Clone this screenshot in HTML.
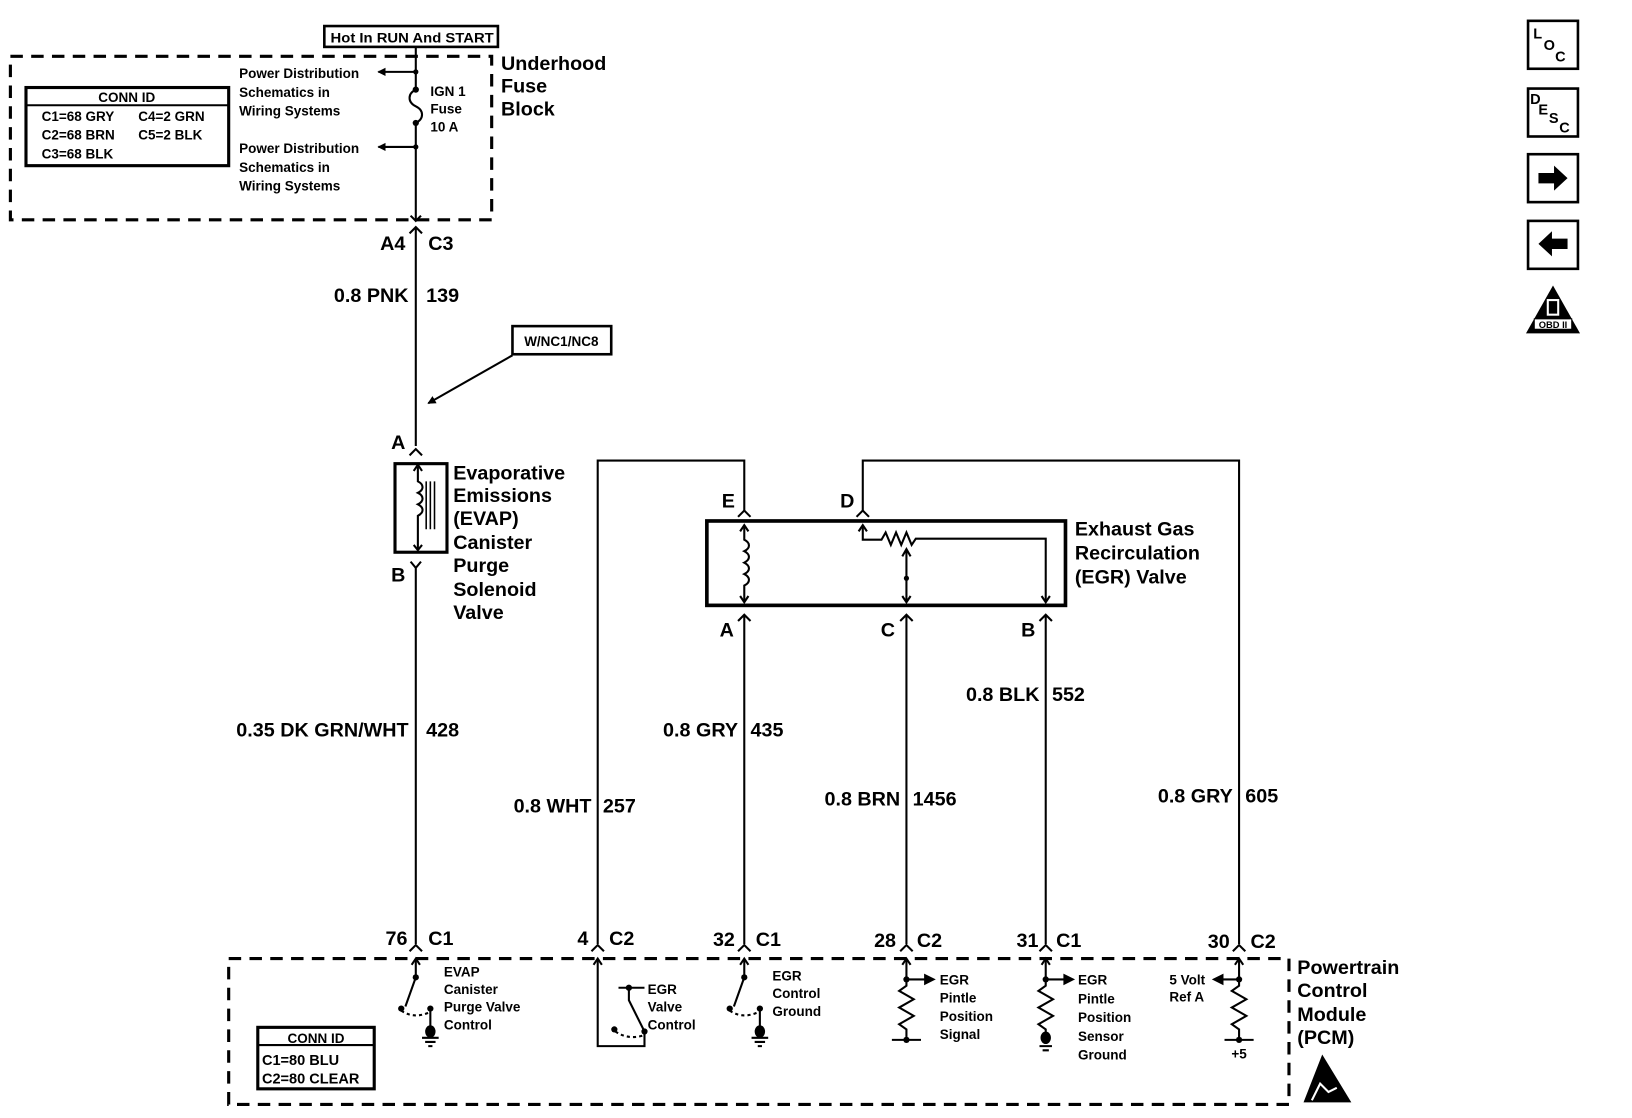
<!DOCTYPE html>
<html><head><meta charset="utf-8"><style>
html,body{margin:0;padding:0;background:#fff;}
svg{display:block;}
text{font-family:"Liberation Sans",Arial,sans-serif;font-weight:bold;fill:#000;}
.b{font-size:19px;}
.m{font-size:14px;}
.s{font-size:13px;}
</style></head><body>
<svg width="1632" height="1118" viewBox="0 0 1570 1073" preserveAspectRatio="none" xmlns="http://www.w3.org/2000/svg">
<defs>
<marker id="ah" markerWidth="8" markerHeight="8" refX="7" refY="4" orient="auto" markerUnits="userSpaceOnUse"><path d="M0,0 L8,4 L0,8 z" fill="#000"/></marker>
</defs>
<g fill="none" stroke="#000" stroke-width="2">
<rect x="10" y="54" width="463" height="157" stroke-width="3" stroke-dasharray="12,8"/>
<rect x="312" y="25" width="167" height="20" stroke-width="2.5"/>
<rect x="25" y="84" width="195" height="75" stroke-width="3"/>
<line x1="25" y1="101" x2="220" y2="101"/>
<path d="M400,45 V86 M400,118 V212"/>
<path d="M400,86 c-8,4 -8,12 0,16 c8,4 8,12 0,16"/>
<line x1="400" y1="69" x2="364" y2="69" marker-end="url(#ah)"/>
<line x1="400" y1="141" x2="364" y2="141" marker-end="url(#ah)"/>
<path d="M395,207 L400,212 L405,207"/>
<path d="M394,224 L400,218 L406,224 M400,218 V428"/>
<path d="M394,437 L400,431 L406,437"/>
<rect x="493" y="313" width="95" height="27" stroke-width="2.5"/>
<line x1="493" y1="341" x2="412" y2="387" marker-end="url(#ah)"/>
<rect x="380" y="445" width="50" height="85" stroke-width="3"/>
<path d="M402,448 V462 c6,3 6,8 0,11 c6,3 6,8 0,11 c6,3 6,8 0,11 V527"/>
<path d="M398,452 L402,446 L406,452 M398,523 L402,528 L406,523"/>
<path d="M410,462 V508 M414,462 V508 M418,462 V508" stroke-width="1.5"/>
<path d="M395,539 L400,545 L405,539 M400,545 V906"/>
<path d="M575,906 V442 H716 V490"/>
<path d="M710,496 L716,490 L722,496"/>
<path d="M830,490 V442 H1192 V906"/>
<path d="M824,496 L830,490 L836,496"/>
<rect x="680" y="500" width="345" height="81" stroke-width="3.5"/>
<path d="M716,505 V518 c6,3 6,8 0,11 c6,3 6,8 0,11 c6,3 6,8 0,11 c6,3 6,8 0,11 V578"/>
<path d="M712,510 L716,504 L720,510 M712,572 L716,578 L720,572"/>
<path d="M830,505 V518 H848 l4,-7 l5,12 l5,-12 l5,12 l5,-12 l5,12 l4,-6 H1006 V578"/>
<path d="M826,510 L830,504 L834,510 M1002,572 L1006,578 L1010,572"/>
<path d="M872,528 V578 M868,572 L872,578 L876,572 M868,534 L872,527 L876,534"/>
<path d="M710,596 L716,590 L722,596 M716,590 V906"/>
<path d="M866,596 L872,590 L878,596 M872,590 V906"/>
<path d="M1000,596 L1006,590 L1012,596 M1006,590 V906"/>
<path d="M394,913 L400,907 L406,913 M569,913 L575,907 L581,913 M710,913 L716,907 L722,913 M866,913 L872,907 L878,913 M1000,913 L1006,907 L1012,913 M1186,913 L1192,907 L1198,913"/>
<rect x="220" y="920" width="1020" height="140" stroke-width="3" stroke-dasharray="12,8"/>
<rect x="248" y="986" width="112" height="59" stroke-width="3"/>
<line x1="248" y1="1003" x2="360" y2="1003"/>
<path d="M400,920 V938 L390,966"/>
<path d="M396,926 L400,920 L404,926"/>
<path d="M386,970 q12,8 26,2" stroke-dasharray="3,3"/>
<path d="M414,970 V992"/>
<path d="M406,996 H422 M409,1000 H419 M412,1004 H416"/>
<path d="M575,920 V1004 H620 V990 L605,960 V948 M595,948 H620"/>
<path d="M571,926 L575,920 L579,926"/>
<path d="M592,990 q12,8 26,4" stroke-dasharray="3,3"/>
<path d="M716,920 V938 L706,966"/>
<path d="M712,926 L716,920 L720,926"/>
<path d="M702,970 q12,8 26,2" stroke-dasharray="3,3"/>
<path d="M731,970 V990 M723,996 H739 M726,1000 H736 M729,1004 H733"/>
<path d="M872,920 V946 l-7,5 l14,8 l-14,8 l14,8 l-14,8 l7,5 V998 M858,998 H886 M872,940 H890"/>
<path d="M868,926 L872,920 L876,926"/>
<path d="M890,936 L898,940 L890,944 z" fill="#000"/>
<path d="M1006,920 V946 l-7,5 l14,8 l-14,8 l14,8 l-14,8 l7,5 V996 M1000,1004 H1012 M1003,1008 H1009 M1006,940 H1024"/>
<path d="M1002,926 L1006,920 L1010,926"/>
<path d="M1024,936 L1032,940 L1024,944 z" fill="#000"/>
<path d="M1192,920 V946 l-7,5 l14,8 l-14,8 l14,8 l-14,8 l7,5 V998 M1178,998 H1206 M1192,940 H1176"/>
<path d="M1188,926 L1192,920 L1196,926"/>
<path d="M1176,936 L1168,940 L1176,944 z" fill="#000"/>
<rect x="1470" y="20" width="48" height="46" stroke-width="2.5"/>
<rect x="1470" y="85" width="48" height="46" stroke-width="2.5"/>
<rect x="1470" y="148" width="48" height="46" stroke-width="2.5"/>
<rect x="1470" y="212" width="48" height="46" stroke-width="2.5"/>
</g>
<g fill="#000">
<circle cx="400" cy="69" r="2.5"/><circle cx="400" cy="141" r="2.5"/>
<circle cx="400" cy="86" r="3"/><circle cx="400" cy="118" r="3"/>
<circle cx="400" cy="938" r="3"/><circle cx="386" cy="968" r="3"/><circle cx="414" cy="968" r="3"/>
<ellipse cx="414" cy="990" rx="5" ry="6"/>
<circle cx="605" cy="948" r="3"/><circle cx="620" cy="990" r="3"/><circle cx="591" cy="988" r="3"/>
<circle cx="716" cy="938" r="3"/><circle cx="702" cy="968" r="3"/><circle cx="731" cy="968" r="3"/>
<ellipse cx="731" cy="990" rx="5" ry="6"/>
<circle cx="872" cy="940" r="3"/><circle cx="872" cy="998" r="3"/>
<circle cx="1006" cy="940" r="3"/><ellipse cx="1006" cy="996" rx="5" ry="6"/>
<circle cx="1192" cy="940" r="3"/><circle cx="1192" cy="998" r="3"/>
<circle cx="872" cy="555" r="2.5"/>
<path d="M1480,166 H1495 V159 L1508,171 L1495,183 V176 H1480 z"/>
<path d="M1508,229 H1493 V222 L1480,234 L1493,246 V239 H1508 z"/>
<path d="M1494,274 L1520,320 H1468 z"/>
<path d="M1272,1012 L1300,1058 L1254,1058 z"/>
</g>
<path d="M1262,1056 L1270,1040 L1278,1048 L1286,1044" stroke="#fff" stroke-width="2" fill="none"/>
<rect x="1476" y="306" width="36" height="10" fill="#fff" stroke="#000" stroke-width="1"/>
<text x="1494" y="315" class="s" style="font-size:9px" text-anchor="middle">OBD II</text>
<rect x="1489" y="288" width="10" height="14" fill="none" stroke="#fff" stroke-width="2"/>
<text x="1475" y="37" class="m">L</text><text x="1485" y="48" class="m">O</text><text x="1496" y="59" class="m">C</text>
<text x="1472" y="100" class="m">D</text><text x="1480" y="110" class="m">E</text><text x="1490" y="118" class="m">S</text><text x="1500" y="127" class="m">C</text>
<text x="318" y="41" class="s" textLength="157" lengthAdjust="spacingAndGlyphs">Hot In RUN And START</text>
<text x="122" y="98" class="s" text-anchor="middle">CONN ID</text>
<text x="40" y="116" class="s">C1=68 GRY</text><text x="133" y="116" class="s">C4=2 GRN</text>
<text x="40" y="134" class="s">C2=68 BRN</text><text x="133" y="134" class="s">C5=2 BLK</text>
<text x="40" y="152" class="s">C3=68 BLK</text>
<text x="230" y="75" class="s">Power Distribution</text>
<text x="230" y="93" class="s">Schematics in</text>
<text x="230" y="111" class="s">Wiring Systems</text>
<text x="230" y="147" class="s">Power Distribution</text>
<text x="230" y="165" class="s">Schematics in</text>
<text x="230" y="183" class="s">Wiring Systems</text>
<text x="414" y="92" class="s">IGN 1</text>
<text x="414" y="109" class="s">Fuse</text>
<text x="414" y="126" class="s">10 A</text>
<text x="482" y="67" class="b">Underhood</text>
<text x="482" y="89" class="b">Fuse</text>
<text x="482" y="111" class="b">Block</text>
<text x="390" y="240" class="b" text-anchor="end">A4</text>
<text x="412" y="240" class="b">C3</text>
<text x="393" y="290" class="b" text-anchor="end">0.8 PNK</text>
<text x="410" y="290" class="b">139</text>
<text x="540" y="332" class="s" text-anchor="middle">W/NC1/NC8</text>
<text x="390" y="431" class="b" text-anchor="end">A</text>
<text x="390" y="558" class="b" text-anchor="end">B</text>
<text x="436" y="460" class="b">Evaporative</text>
<text x="436" y="482" class="b">Emissions</text>
<text x="436" y="504" class="b">(EVAP)</text>
<text x="436" y="527" class="b">Canister</text>
<text x="436" y="549" class="b">Purge</text>
<text x="436" y="572" class="b">Solenoid</text>
<text x="436" y="594" class="b">Valve</text>
<text x="707" y="487" class="b" text-anchor="end">E</text>
<text x="822" y="487" class="b" text-anchor="end">D</text>
<text x="1034" y="514" class="b">Exhaust Gas</text>
<text x="1034" y="537" class="b">Recirculation</text>
<text x="1034" y="560" class="b">(EGR) Valve</text>
<text x="706" y="611" class="b" text-anchor="end">A</text>
<text x="861" y="611" class="b" text-anchor="end">C</text>
<text x="996" y="611" class="b" text-anchor="end">B</text>
<text x="393" y="707" class="b" text-anchor="end">0.35 DK GRN/WHT</text>
<text x="410" y="707" class="b">428</text>
<text x="569" y="780" class="b" text-anchor="end">0.8 WHT</text>
<text x="580" y="780" class="b">257</text>
<text x="710" y="707" class="b" text-anchor="end">0.8 GRY</text>
<text x="722" y="707" class="b">435</text>
<text x="866" y="773" class="b" text-anchor="end">0.8 BRN</text>
<text x="878" y="773" class="b">1456</text>
<text x="1000" y="673" class="b" text-anchor="end">0.8 BLK</text>
<text x="1012" y="673" class="b">552</text>
<text x="1186" y="770" class="b" text-anchor="end">0.8 GRY</text>
<text x="1198" y="770" class="b">605</text>
<text x="392" y="907" class="b" text-anchor="end">76</text><text x="412" y="907" class="b">C1</text>
<text x="566" y="907" class="b" text-anchor="end">4</text><text x="586" y="907" class="b">C2</text>
<text x="707" y="908" class="b" text-anchor="end">32</text><text x="727" y="908" class="b">C1</text>
<text x="862" y="909" class="b" text-anchor="end">28</text><text x="882" y="909" class="b">C2</text>
<text x="999" y="909" class="b" text-anchor="end">31</text><text x="1016" y="909" class="b">C1</text>
<text x="1183" y="910" class="b" text-anchor="end">30</text><text x="1203" y="910" class="b">C2</text>
<text x="427" y="937" class="s">EVAP</text>
<text x="427" y="954" class="s">Canister</text>
<text x="427" y="971" class="s">Purge Valve</text>
<text x="427" y="988" class="s">Control</text>
<text x="623" y="954" class="s">EGR</text>
<text x="623" y="971" class="s">Valve</text>
<text x="623" y="988" class="s">Control</text>
<text x="743" y="941" class="s">EGR</text>
<text x="743" y="958" class="s">Control</text>
<text x="743" y="975" class="s">Ground</text>
<text x="904" y="945" class="s">EGR</text>
<text x="904" y="962" class="s">Pintle</text>
<text x="904" y="980" class="s">Position</text>
<text x="904" y="997" class="s">Signal</text>
<text x="1037" y="945" class="s">EGR</text>
<text x="1037" y="963" class="s">Pintle</text>
<text x="1037" y="981" class="s">Position</text>
<text x="1037" y="999" class="s">Sensor</text>
<text x="1037" y="1017" class="s">Ground</text>
<text x="1125" y="945" class="s">5 Volt</text>
<text x="1125" y="961" class="s">Ref A</text>
<text x="1192" y="1016" class="s" text-anchor="middle">+5</text>
<text x="304" y="1001" class="s" text-anchor="middle">CONN ID</text>
<text x="252" y="1022" class="m">C1=80 BLU</text>
<text x="252" y="1040" class="m">C2=80 CLEAR</text>
<text x="1248" y="935" class="b">Powertrain</text>
<text x="1248" y="957" class="b">Control</text>
<text x="1248" y="980" class="b">Module</text>
<text x="1248" y="1002" class="b">(PCM)</text>
</svg>
</body></html>
